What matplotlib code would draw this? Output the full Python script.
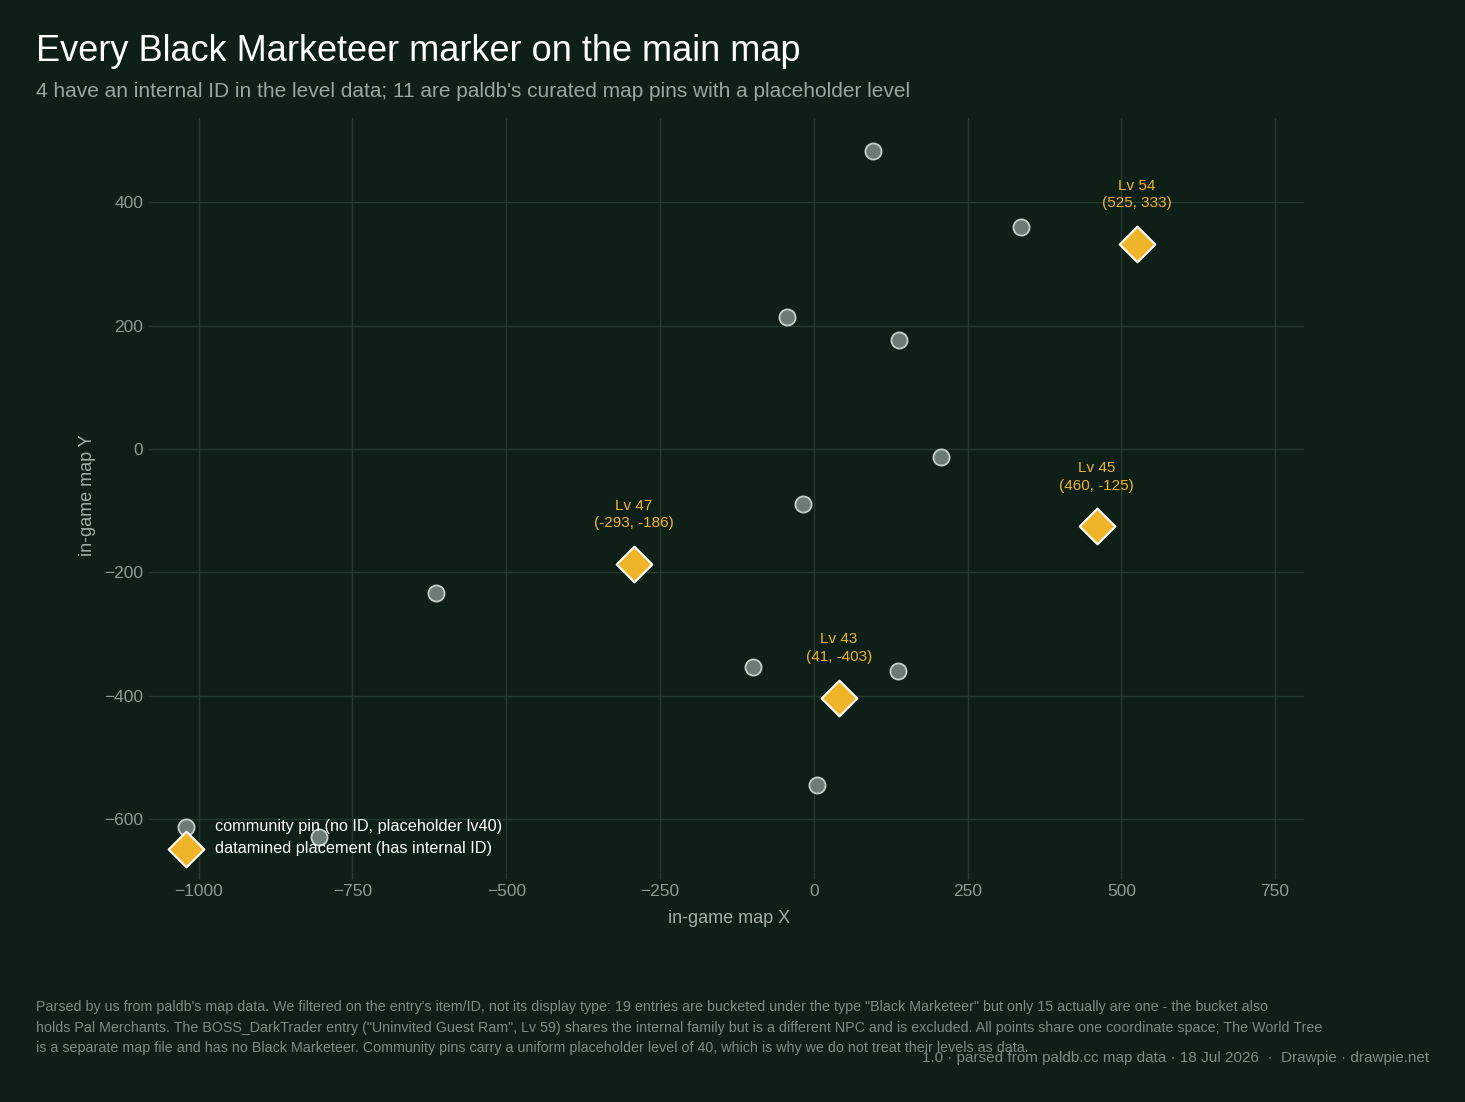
import numpy as np
import matplotlib
matplotlib.use('Agg')
import matplotlib.pyplot as plt

plt.rcParams['font.family'] = ['Liberation Sans', 'DejaVu Sans']

BG = '#0e1f18'
GRID = '#233a30'
PIN = '#6b7d73'
PIN_EDGE = '#c5cfc9'
GOLD = '#f0b429'
TICK = '#8d9b93'

# community pins (no ID, placeholder lv40)
pin_x = [97, 337, -43, 139, 207, -18, -614, -99, 137, 6, -804]
pin_y = [483, 361, 215, 177, -13, -89, -234, -354, -360, -545, -630]

# datamined placements
dm_x = [525, 460, -293, 41]
dm_y = [333, -125, -186, -403]
dm_lv = [54, 45, 47, 43]

x_ticks = [-1000, -750, -500, -250, 0, 250, 500, 750]
y_ticks = [-600, -400, -200, 0, 200, 400]

fig = plt.figure(figsize=(14.65, 11.02), dpi=100, facecolor=BG)
ax = fig.add_axes([0.1058, 0.2087, 0.7843, 0.6842])
ax.set_facecolor(BG)

ax.scatter(pin_x, pin_y, s=135, c=PIN, edgecolors=PIN_EDGE, linewidths=1.3,
           zorder=3, label='community pin (no ID, placeholder lv40)')
ax.scatter(dm_x, dm_y, s=330, marker='D', c=GOLD, edgecolors='white', linewidths=1.5,
           zorder=4, label='datamined placement (has internal ID)')

for x, y, lv in zip(dm_x, dm_y, dm_lv):
    ax.annotate('Lv %d\n(%d, %d)' % (lv, x, y), (x, y), xytext=(0, 24),
                textcoords='offset points', ha='center', va='bottom',
                color=GOLD, fontsize=11, linespacing=1.35)

ax.set_xlim(-1071, 797)
ax.set_ylim(-686, 537)
ax.set_xticks(x_ticks)
ax.set_yticks(y_ticks)
ax.set_xticklabels(['\u2212' + str(-t) if t < 0 else str(t) for t in x_ticks])
ax.set_yticklabels(['\u2212' + str(-t) if t < 0 else str(t) for t in y_ticks])
ax.grid(True, color=GRID, lw=1)
ax.set_axisbelow(True)
for s in ax.spines.values():
    s.set_visible(False)
ax.tick_params(colors=TICK, labelsize=12.5, length=5, width=1, color=GRID)
ax.set_xlabel('in-game map X', color='#a3aea8', fontsize=13, labelpad=8)
ax.set_ylabel('in-game map Y', color='#a3aea8', fontsize=13, labelpad=6)

leg = ax.legend(loc='lower left', bbox_to_anchor=(0.004, 0.008), frameon=False,
                fontsize=11.7, labelcolor='white', borderaxespad=0.3,
                handletextpad=0.8, labelspacing=0.45, borderpad=0.3)

fig.text(0.0246, 0.953, 'Every Black Marketeer marker on the main map',
         color='white', fontsize=26, va='center')
fig.text(0.0246, 0.917, "4 have an internal ID in the level data; 11 are paldb's curated map pins with a placeholder level",
         color='#9aa7a0', fontsize=15, va='center')

foot = ("Parsed by us from paldb's map data. We filtered on the entry's item/ID, not its display type: 19 entries are bucketed under the type \"Black Marketeer\" but only 15 actually are one - the bucket also\n"
        "holds Pal Merchants. The BOSS_DarkTrader entry (\"Uninvited Guest Ram\", Lv 59) shares the internal family but is a different NPC and is excluded. All points share one coordinate space; The World Tree\n"
        "is a separate map file and has no Black Marketeer. Community pins carry a uniform placeholder level of 40, which is why we do not treat their levels as data.")
fig.text(0.0246, 0.0925, foot, color='#7d8b84', fontsize=10.3, va='top', linespacing=1.6)
fig.text(0.9755, 0.040, '1.0 \u00b7 parsed from paldb.cc map data \u00b7 18 Jul 2026  \u00b7  Drawpie \u00b7 drawpie.net',
         color='#7d8b84', fontsize=11, ha='right', va='center')

fig.savefig('out.png', dpi=100, facecolor=BG)
